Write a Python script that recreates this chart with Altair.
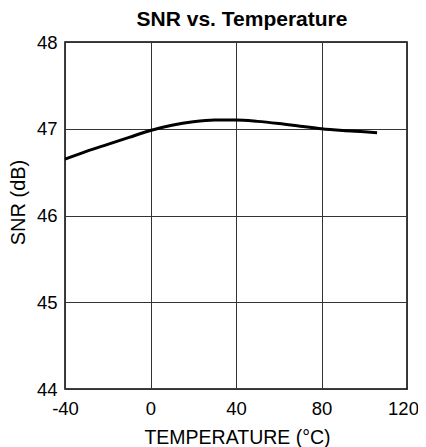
import altair as alt
import pandas as pd

temps = [-40, -30, -20, -10, 0, 10, 20, 30, 40, 50, 60, 70, 80, 90, 100, 106]
snr = [46.65, 46.74, 46.82, 46.90, 46.98, 47.04, 47.08, 47.10, 47.10, 47.085, 47.06, 47.03, 47.0, 46.98, 46.965, 46.955]

x_ticks = [-40, 0, 40, 80, 120]
y_ticks = [44, 45, 46, 47, 48]

df = pd.DataFrame({"temp": temps, "snr": snr})

FONT = "Liberation Sans"

chart = alt.Chart(df).mark_line(color="black", strokeWidth=3, interpolate="monotone").encode(
    x=alt.X("temp:Q", scale=alt.Scale(domain=[-40, 120], nice=False, zero=False),
            axis=alt.Axis(values=x_ticks, title="TEMPERATURE (°C)", ticks=False, labelPadding=10,
                          labelFlush=False, labelOverlap=False, labelExpr="'' + datum.value",
                          labelOffset=alt.condition("datum.value == 120", alt.value(-4), alt.value(0)),
                          titleX=172, titleY=48, titleAlign="center", titleBaseline="middle",
                          grid=True, gridColor="#333333", gridWidth=1,
                          domain=False, labelFontSize=18.5, titleFontSize=19.5, titleFontWeight="normal",
                          labelFont=FONT, titleFont=FONT, labelColor="black", titleColor="black")),
    y=alt.Y("snr:Q", scale=alt.Scale(domain=[44, 48], nice=False, zero=False),
            axis=alt.Axis(values=y_ticks, title="SNR (dB)", ticks=False, labelPadding=8,
                          labelFlush=False, labelOverlap=False,
                          titleX=-47, titleY=160, titleAngle=-90, titleAlign="center", titleBaseline="middle",
                          grid=True, gridColor="#333333", gridWidth=1,
                          domain=False, labelFontSize=18.5, titleFontSize=20, titleFontWeight="normal",
                          labelFont=FONT, titleFont=FONT, labelColor="black", titleColor="black")),
).properties(
    width=342,
    height=347,
    title=alt.TitleParams("SNR vs. Temperature", fontSize=21, fontWeight="bold", font=FONT,
                          color="black", anchor="middle", offset=3, dx=6),
    autosize=alt.AutoSizeParams(type="none"),
    padding={"left": 57, "top": 34, "right": 11, "bottom": 58},
).configure_view(stroke="black", strokeWidth=1.5)

chart.save("out.html", embed_options={"renderer": "svg", "actions": False})
